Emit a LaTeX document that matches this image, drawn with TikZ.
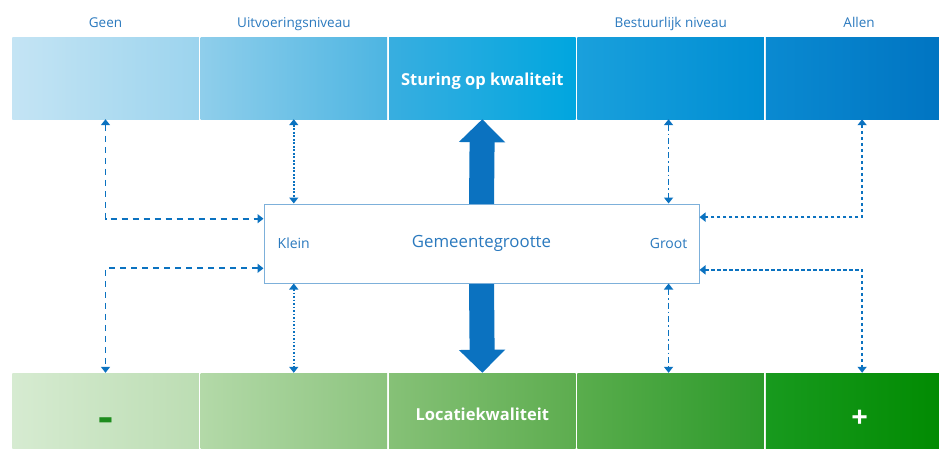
\documentclass[tikz,border=0pt]{standalone}
\usepackage{fontspec}
\setmainfont{Open Sans}
\usetikzlibrary{arrows.meta,positioning,calc}
\newcommand{\cellWidth}{186.5pt}
\newcommand{\cellHeight}{82pt}
\newcommand{\cellGap}{1.5pt}
\definecolor{labelBlue}{HTML}{2A79BE}
\definecolor{arrowBlue}{HTML}{0B72C0}
\definecolor{boxLine}{HTML}{7DB0DA}
\definecolor{minusGreen}{HTML}{1E8C1E}
% band colours, left and right end of each cell
\definecolor{topA}{HTML}{C4E4F4}\definecolor{topB}{HTML}{9CD4EE}
\definecolor{topC}{HTML}{8FCEEB}\definecolor{topD}{HTML}{4DB5E2}
\definecolor{topE}{HTML}{38AEE0}\definecolor{topF}{HTML}{00A6DF}
\definecolor{topG}{HTML}{1AA0DC}\definecolor{topH}{HTML}{008ED3}
\definecolor{topI}{HTML}{0A8AD1}\definecolor{topJ}{HTML}{0073C1}
\definecolor{botA}{HTML}{D6EBD1}\definecolor{botB}{HTML}{BCDDB3}
\definecolor{botC}{HTML}{B3D9A8}\definecolor{botD}{HTML}{8CC47E}
\definecolor{botE}{HTML}{86C177}\definecolor{botF}{HTML}{5DAD4F}
\definecolor{botG}{HTML}{5AAD4D}\definecolor{botH}{HTML}{2C9A2A}
\definecolor{botI}{HTML}{189A1E}\definecolor{botJ}{HTML}{008A00}
\tikzset{
  cell/.style={minimum width=\cellWidth, minimum height=\cellHeight, inner sep=0pt,
    text=white, font=\bfseries\fontsize{16.5}{20}\selectfont},
  toplabel/.style={text=labelBlue, font=\fontsize{13.5}{16}\selectfont, inner sep=0pt,
    text height=9.5pt, text depth=3pt},
  sizebox/.style={draw=boxLine, line width=1pt, fill=white, minimum width=435pt,
    minimum height=79pt, text=labelBlue, font=\fontsize{16.8}{20}\selectfont},
  sidelabel/.style={text=labelBlue, font=\fontsize{14}{17}\selectfont, inner sep=0pt},
  link/.style={arrowBlue, line width=1.8pt,
    {Triangle[width=9pt,length=6pt]}-{Triangle[width=9pt,length=6pt]}},
  dashlink/.style={link, dash pattern=on 6pt off 5pt},
  dotlink/.style={link, dash pattern=on 1.8pt off 1.7pt},
  dotdashlink/.style={link, dash pattern=on 6pt off 3pt on 1.6pt off 3pt},
  finelink/.style={link, dash pattern=on 3.5pt off 2.5pt},
  bigarrow/.style={arrowBlue, line width=25pt, -{Triangle[width=45pt,length=23pt]}}
}

\begin{document}
\begin{tikzpicture}[x=1pt, y=-1pt]
\useasboundingbox (0,0) rectangle (939,448);
\clip (0,0) rectangle (939,448);
% sturing op kwaliteit
\node[cell, left color=topA, right color=topB] (t1) at (105.5,78) {};
\node[cell, left color=topC, right color=topD, right=\cellGap of t1] (t2) {};
\node[cell, left color=topE, right color=topF, right=\cellGap of t2, text depth=0pt] (t3) {\raisebox{-2pt}{Sturing op kwaliteit}};
\node[cell, left color=topG, right color=topH, right=\cellGap of t3] (t4) {};
\node[cell, left color=topI, right color=topJ, right=\cellGap of t4] (t5) {};
\node[toplabel, above=6pt of t1] (geen) {Geen};
\node[toplabel, above=6pt of t2] (uitv) {Uitvoeringsniveau};
\node[toplabel, above=6pt of t4] (best) {Bestuurlijk niveau};
\node[toplabel, above=6pt of t5] (allen) {Allen};
% locatiekwaliteit
\node[cell, left color=botA, right color=botB] (b1) at (105.5,414)
  {\raisebox{-17pt}[0pt][0pt]{\textcolor{minusGreen}{\fontsize{22}{22}\selectfont\scalebox{2.1}[1.9]{-}}}};
\node[cell, left color=botC, right color=botD, right=\cellGap of b1] (b2) {};
\node[cell, left color=botE, right color=botF, right=\cellGap of b2] (b3) {Locatiekwaliteit};
\node[cell, left color=botG, right color=botH, right=\cellGap of b3] (b4) {};
\node[cell, left color=botI, right color=botJ, right=\cellGap of b4] (b5)
  {\hspace*{1pt}\raisebox{-13pt}[0pt][0pt]{\fontsize{29}{29}\selectfont +}};
% gemeentegrootte
\draw[bigarrow] (481.5,204) -- (t3.south);
\draw[bigarrow] (481.5,283) -- (b3.north);
\node[sizebox] (size) at (481.5,243.5) {Gemeentegrootte};
\node[sidelabel, right=14pt of size.west] (klein) {Klein};
\node[sidelabel, left=12pt of size.east] (groot) {Groot};

\draw[dashlink] (t1.south) |- ($(size.north west)!0.19!(size.south west)$);
\draw[dashlink] ($(size.north west)!0.81!(size.south west)$) -| (b1.north);
\draw[dotlink] (t2.south -| klein) -- (size.north -| klein);
\draw[dotlink] (size.south -| klein) -- (b2.north -| klein);
\draw[dotdashlink] (t4.south -| groot) -- (size.north -| groot);
\draw[dotdashlink] (size.south -| groot) -- (b4.north -| groot);
\draw[finelink] ([xshift=3pt]t5.south) |- ($(size.north east)!0.17!(size.south east)$);
\draw[finelink] ($(size.north east)!0.83!(size.south east)$) -| ([xshift=3pt]b5.north);
\end{tikzpicture}
\end{document}
